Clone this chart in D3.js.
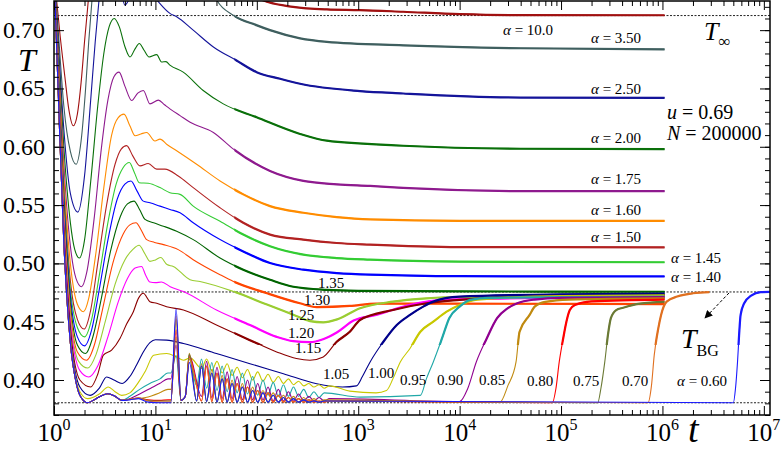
<!DOCTYPE html>
<html>
<head>
<meta charset="utf-8">
<script src="https://cdn.jsdelivr.net/npm/d3@7"></script>
<style>
  body { margin: 0; background: #fff; }
  svg text { font-family: "Liberation Serif", "Times New Roman", serif; fill: #000; }
</style>
</head>
<body>
<svg width="781" height="451"></svg>
<script>
"use strict";

// reference temperatures (dotted lines)
const tInf = 0.7125;
const tBG = 0.4755;
const tLow = 0.3805;

const xMajor = [1, 10, 100, 1e3, 1e4, 1e5, 1e6, 1e7];
const yMajor = [0.40, 0.45, 0.50, 0.55, 0.60, 0.65, 0.70];

// curves as [t, T]
const a1000 = [[1,0.745],[1.06,0.726],[1.15,0.695],[1.28,0.66],[1.4,0.632],[1.55,0.618],[1.7,0.628],[1.85,0.655],[2,0.69],[2.18,0.726],[2.5,0.8],[5,0.86],[20,0.82],[60,0.75],[112,0.726],[228,0.72],[491,0.7178],[1042,0.7172],[2770,0.7158],[1e4,0.7138],[4e4,0.7129],[1.05e6,0.7128]];
const a350 = [[1,0.75],[1.1,0.70],[1.25,0.635],[1.45,0.596],[1.65,0.585],[1.85,0.605],[2.05,0.65],[2.2,0.69],[2.37,0.726],[2.7,0.8],[5,0.86],[20,0.8],[30,0.755],[40.2,0.726],[58,0.713],[99,0.7043],[135,0.7],[267,0.693],[490,0.69],[2770,0.687],[4e4,0.6845],[1.05e6,0.6836]];
const a250 = [[1,0.75],[1.1,0.69],[1.25,0.615],[1.45,0.56],[1.72,0.544],[2,0.575],[2.3,0.64],[2.55,0.69],[2.78,0.726],[3.2,0.77],[3.8,0.785],[4.4,0.745],[5,0.7216],[5.6,0.728],[6.5,0.745],[7.5,0.742],[8.8,0.733],[10.3,0.726],[13.9,0.7144],[16.2,0.7115],[23.6,0.7],[37.3,0.6856],[63,0.674],[99.6,0.664],[170,0.6583],[267,0.654],[1042,0.6477],[2770,0.6457],[4e4,0.6422],[1.05e6,0.642]];
const a200 = [[1,0.75],[1.1,0.685],[1.25,0.6],[1.45,0.535],[1.6,0.512],[1.78,0.5046],[2,0.52],[2.3,0.57],[2.7,0.635],[3.1,0.68],[3.5,0.703],[3.93,0.71],[4.4,0.703],[5,0.686],[5.62,0.677],[6.3,0.684],[6.93,0.6885],[7.7,0.683],[8.66,0.677],[10.3,0.679],[11.5,0.6727],[12.7,0.673],[13.9,0.67],[18.8,0.664],[29.6,0.6483],[46.7,0.6368],[99.6,0.6253],[267,0.611],[490,0.6052],[2770,0.6009],[4e4,0.5983],[1.05e6,0.598]];
const a175 = [[1,0.75],[1.1,0.68],[1.25,0.585],[1.45,0.515],[1.65,0.487],[1.87,0.48],[2.1,0.492],[2.5,0.54],[2.9,0.595],[3.4,0.64],[3.9,0.66],[4.38,0.664],[5,0.652],[5.84,0.6397],[6.7,0.646],[7.6,0.6483],[8.83,0.6368],[10.7,0.64],[12.3,0.636],[13.9,0.6325],[17.5,0.6267],[22,0.621],[37.3,0.6123],[58.8,0.598],[135,0.5793],[288,0.5707],[614,0.5678],[1310,0.5664],[2770,0.5647],[4e4,0.562],[1.05e6,0.562]];
const a160 = [[1,0.75],[1.1,0.675],[1.25,0.575],[1.45,0.5],[1.7,0.465],[1.95,0.4586],[2.2,0.47],[2.6,0.51],[3.1,0.565],[3.7,0.61],[4.3,0.625],[4.9,0.628],[5.6,0.618],[6.3,0.6095],[7.2,0.611],[8.2,0.6123],[9.9,0.605],[11.1,0.6066],[13,0.602],[16.2,0.5966],[25.5,0.585],[43.4,0.5707],[73.5,0.5592],[135,0.5491],[288,0.5434],[614,0.5397],[1310,0.5377],[1e4,0.5365],[1.05e6,0.5365]];
const a150 = [[1,0.75],[1.1,0.67],[1.25,0.565],[1.45,0.485],[1.7,0.452],[1.98,0.4437],[2.3,0.46],[2.7,0.5],[3.3,0.55],[4,0.585],[4.6,0.598],[5.2,0.601],[6,0.592],[7.05,0.5836],[8.5,0.5856],[10.3,0.5808],[12.4,0.5808],[16.8,0.575],[23.6,0.565],[43.4,0.5477],[73.5,0.5348],[135,0.5247],[288,0.5204],[614,0.5175],[1310,0.5161],[1e4,0.514],[1.05e6,0.5138]];
const a145 = [[1,0.75],[1.1,0.668],[1.25,0.56],[1.45,0.478],[1.7,0.445],[2,0.437],[2.35,0.452],[2.8,0.49],[3.4,0.535],[4.1,0.568],[4.8,0.582],[5.53,0.5865],[6.2,0.578],[6.93,0.5692],[8.5,0.5687],[11.1,0.565],[13.9,0.5606],[17.5,0.5592],[23.6,0.5491],[43.4,0.5362],[73.5,0.5247],[135,0.5147],[288,0.5075],[614,0.5046],[1310,0.5032],[1e4,0.5015],[1.05e6,0.501]];
const a140 = [[1,0.75],[1.1,0.665],[1.25,0.555],[1.45,0.472],[1.7,0.437],[2,0.4293],[2.35,0.443],[2.8,0.478],[3.4,0.52],[4.2,0.555],[5,0.568],[5.74,0.5707],[6.6,0.562],[7.6,0.5534],[8.83,0.552],[11.1,0.5491],[13.9,0.5463],[17.5,0.5434],[23.6,0.5348],[43.4,0.5204],[73.5,0.5103],[135,0.5003],[288,0.4946],[614,0.4917],[1310,0.4903],[1e4,0.489],[1.05e6,0.4888]];
const a135 = [[1,0.75],[1.1,0.662],[1.25,0.55],[1.45,0.466],[1.7,0.43],[2.05,0.4227],[2.4,0.436],[2.9,0.468],[3.6,0.51],[4.5,0.54],[5.3,0.551],[6.15,0.5534],[7,0.546],[7.9,0.5377],[9.6,0.5348],[12,0.5319],[16.2,0.5276],[23.6,0.5204],[43.4,0.5046],[73.5,0.4946],[135,0.486],[229,0.48],[490,0.4773],[1e3,0.4765],[1e4,0.476],[1.05e6,0.4757]];
const a130 = [[1,0.75],[1.1,0.66],[1.25,0.545],[1.45,0.46],[1.7,0.424],[2.1,0.417],[2.5,0.43],[3,0.46],[3.8,0.5],[4.8,0.525],[5.6,0.533],[6.43,0.5348],[7.3,0.528],[8.2,0.5204],[9.8,0.518],[12,0.5161],[16.8,0.5118],[23.6,0.5032],[43.4,0.4903],[58.8,0.4845],[126,0.4744],[266,0.4658],[390,0.4625],[826,0.4635],[1500,0.4655],[1e4,0.4655],[1.05e6,0.465]];
const a125 = [[1,0.75],[1.1,0.658],[1.25,0.54],[1.45,0.455],[1.75,0.416],[2.15,0.4103],[2.6,0.422],[3.2,0.45],[4,0.482],[5,0.503],[6,0.512],[6.9,0.5155],[7.9,0.508],[8.83,0.5017],[10,0.503],[11.3,0.505],[13,0.499],[15,0.4974],[22,0.486],[27.5,0.4845],[58.8,0.4759],[126,0.4647],[229,0.456],[334,0.4505],[452,0.4495],[620,0.452],[1042,0.4615],[2200,0.4672],[4700,0.47],[1e4,0.4712],[1.05e6,0.4715]];
const a120 = [[1,0.75],[1.1,0.656],[1.25,0.535],[1.45,0.45],[1.8,0.408],[2.2,0.4026],[2.7,0.412],[3.4,0.437],[4.3,0.467],[5.3,0.487],[6.3,0.496],[7.3,0.4974],[8,0.49],[8.83,0.484],[10,0.4835],[11.5,0.484],[14,0.48],[18.9,0.4759],[40,0.46],[85.6,0.4472],[157,0.437],[229,0.4333],[334,0.4325],[450,0.435],[620,0.441],[900,0.451],[1500,0.4558],[3240,0.4644],[6900,0.4687],[1e5,0.4705],[1.05e6,0.471]];
const a115 = [[1,0.75],[1.1,0.654],[1.25,0.53],[1.45,0.445],[1.8,0.4],[2.3,0.394],[2.7,0.405],[3.07,0.4213],[3.7,0.4256],[4.5,0.436],[5.2,0.448],[6.06,0.4586],[6.8,0.47],[7.6,0.4744],[8.83,0.4672],[10.3,0.4658],[12.9,0.4629],[18.9,0.46],[40,0.4472],[85.6,0.4342],[157,0.4241],[246,0.4184],[334,0.417],[452,0.4198],[614,0.4328],[826,0.4414],[1042,0.4515],[2200,0.46],[4700,0.4658],[1e4,0.4687],[1e5,0.4725],[1.05e6,0.473]];
const a105 = [[1,0.75],[1.1,0.652],[1.25,0.525],[1.45,0.44],[1.8,0.394],[2.27,0.3868],[2.8,0.393],[3.3,0.4026],[3.9,0.4],[4.7,0.397],[5.6,0.403],[6.5,0.4127],[7.6,0.424],[8.83,0.432],[10,0.4345],[12.9,0.4342],[18.9,0.4313],[40,0.4227],[85.6,0.414],[183,0.4054],[390,0.3968],[700,0.394],[960,0.395],[1100,0.403],[1310,0.4155],[1770,0.4328],[2400,0.4472],[3240,0.4558],[4370,0.4629],[5500,0.4672],[1e4,0.4715],[1e5,0.4735],[1.05e6,0.474]];

// slow curves: early part, spike at t~16, oscillating band, late rise to T_BG
const a100Early = [[1,0.75],[1.1,0.65],[1.25,0.522],[1.45,0.437],[1.8,0.39],[2.15,0.384],[2.8,0.388],[3.43,0.394],[4,0.39],[4.65,0.3868],[5.6,0.389],[6.8,0.398],[8,0.408],[9.6,0.4213],[12.9,0.4227],[16,0.42],[19,0.417],[22,0.419]];
const lowStart = [[1,0.75],[1.1,0.648],[1.25,0.518],[1.45,0.432],[1.65,0.398],[1.85,0.385],[2.15,0.3805],[2.6,0.384],[3.4,0.3882],[4,0.386],[4.65,0.3825]];
const pre095 = [[5.6,0.386],[7,0.392],[8.8,0.397],[11.1,0.401],[13.3,0.406]];
const pre090 = [[5.6,0.384],[7,0.388],[9,0.393],[11,0.397],[13.3,0.401]];
const pre085 = [[5.6,0.3835],[8,0.385],[11,0.389],[13.3,0.392]];
const pre080 = [[5.6,0.3835],[6.8,0.3845],[8.5,0.383],[11,0.3825],[13.3,0.383]];
const pre075 = [[5.6,0.3835],[6.8,0.3845],[8.5,0.3825],[11,0.382],[13.3,0.382]];
const pre070 = [[5.6,0.3835],[6.8,0.3845],[8.5,0.382],[11,0.381],[13.3,0.381]];
const pre060 = [[5.6,0.383],[6.8,0.384],[8.5,0.381],[11,0.3805],[13.3,0.3805]];

const spike1 = [0.421, 0.430, 0.437, 0.443, 0.452, 0.455, 0.461];
const spike2 = [0.418, 0.421, 0.423, 0.420, 0.422, 0.418, 0.415];

const oscT = [25.5, 28.5, 32, 36, 40.5, 45.5, 51, 57, 64, 72, 81, 91, 102, 115, 129, 145, 163, 183, 205, 230, 258, 290, 326, 366, 411, 462, 520];
const pk100 = [0.418, 0.416, 0.414, 0.411, 0.409, 0.407, 0.405, 0.403, 0.401, 0.399, 0.397, 0.396, 0.395];
const tr100 = [0.410, 0.408, 0.406, 0.404, 0.402, 0.400, 0.399, 0.398, 0.397, 0.396, 0.395, 0.394, 0.393];
const pk095 = [0.418, 0.415, 0.412, 0.409, 0.406, 0.403, 0.400, 0.398, 0.396, 0.394, 0.392, 0.390, 0.389];
const tr095 = [0.395, 0.393, 0.391, 0.390, 0.389, 0.388, 0.387, 0.387, 0.386, 0.386, 0.386, 0.385, 0.385];
const pk090 = [0.416, 0.411, 0.407, 0.403, 0.400, 0.397, 0.394, 0.392, 0.390, 0.388, 0.386, 0.385, 0.384];
const tr090 = [0.386, 0.385, 0.384, 0.384, 0.383, 0.383, 0.383, 0.382, 0.382, 0.382, 0.382, 0.382, 0.382];
const pk085 = [0.414, 0.409, 0.404, 0.400, 0.397, 0.394, 0.391, 0.389, 0.387, 0.386, 0.385, 0.384, 0.383];
const pkLow = [0.412, 0.406, 0.401, 0.397, 0.394, 0.391, 0.389, 0.387, 0.385, 0.384, 0.383, 0.382, 0.382];
const trLow = [0.382, 0.3815, 0.381, 0.381, 0.381, 0.381, 0.381, 0.381, 0.381, 0.381, 0.381, 0.381, 0.381];

const late100 = [[826,0.3905],[1500,0.389],[1900,0.391],[2200,0.401],[2600,0.4155],[3240,0.427],[4100,0.4414],[5500,0.45],[7440,0.4586],[1e4,0.4644],[1.5e4,0.469],[1e5,0.472],[1.05e6,0.4725]];
const late095 = [[1042,0.3853],[4100,0.3868],[4700,0.401],[5500,0.4155],[6700,0.4356],[7900,0.453],[1e4,0.4629],[1.27e4,0.4687],[2e4,0.4705],[1e5,0.471],[1.05e6,0.4715]];
const late090 = [[1e4,0.3815],[1.2e4,0.3925],[1.46e4,0.4155],[1.85e4,0.4356],[2.34e4,0.453],[2.97e4,0.4615],[3.7e4,0.4658],[5.5e4,0.469],[1e5,0.4705],[1.05e6,0.471]];
const late085 = [[2.5e4,0.381],[3.0e4,0.3954],[3.6e4,0.4155],[3.9e4,0.4414],[4.9e4,0.4558],[5.5e4,0.4629],[7e4,0.467],[1.2e5,0.469],[1.05e6,0.47]];
const late080 = [[8.2e4,0.3805],[8.9e4,0.3925],[9.6e4,0.4155],[1.05e5,0.4356],[1.13e5,0.45],[1.22e5,0.46],[1.37e5,0.4644],[2e5,0.4675],[1.05e6,0.469]];
const late075 = [[2.3e5,0.3805],[2.47e5,0.3925],[2.7e5,0.4155],[2.9e5,0.4385],[3.1e5,0.453],[3.5e5,0.46],[4.1e5,0.462],[6e5,0.4655],[1.05e6,0.467]];
const late070 = [[7.2e5,0.3805],[7.8e5,0.3954],[8.3e5,0.4213],[9.1e5,0.4443],[9.7e5,0.4558],[1.1e6,0.4672],[1.4e6,0.4716],[2e6,0.4744],[2.9e6,0.4753]];
const late060 = [[5.0e6,0.3805],[5.25e6,0.3925],[5.5e6,0.4155],[5.7e6,0.4385],[5.9e6,0.4558],[6.4e6,0.4658],[7.5e6,0.4724],[9.3e6,0.4753],[1.14e7,0.4755]];

const colors = ["#a01010", "#3f5f5f", "#14149a", "#0a700a", "#8e1a8e", "#ff8c00", "#b22222", "#33cc33", "#0000ff", "#006400", "#ff4500", "#9acd32", "#ff00ff", "#8b0000", "#00008b", "#c8c800", "#20a8a8", "#900090", "#c08a10", "#ff0000", "#6b7a35", "#e07020", "#1a1aff"];

const svg = d3.select("svg");
const x = d3.scaleLog().domain([1, 1.15e7]).range([54, 770]);
const y = d3.scaleLinear().domain([0.370, 0.725]).range([415, 1]);

const oscPoints = (pk, tr, phase) => {
  const pts = [];
  pk.forEach((p, k) => {
    pts.push([oscT[2 * k + phase], tr[k]], [oscT[2 * k + 1 + phase], p]);
  });
  return pts;
};

const slow = (pre, i, pk, tr, phase, late) => {
  const last = pre[pre.length - 1][1];
  return lowStart
    .concat(pre)
    .concat([[14.2, last], [16, spike1[i]], [17.9, 0.3825], [19.7, 0.386], [21.6, spike2[i]]])
    .concat(oscPoints(pk, tr, phase))
    .concat(late);
};

const curves = [
  a1000, a350, a250, a200, a175, a160, a150, a145, a140, a135, a130, a125, a120, a115, a105,
  a100Early.concat(oscPoints(pk100, tr100, 1)).concat(late100),
  slow(pre095, 0, pk095, tr095, 0, late095),
  slow(pre090, 1, pk090, tr090, 1, late090),
  slow(pre085, 2, pk085, trLow, 0, late085),
  slow(pre080, 3, pkLow, trLow, 1, late080),
  slow(pre075, 4, pkLow, trLow, 0, late075),
  slow(pre070, 5, pkLow, trLow, 1, late070),
  slow(pre060, 6, pkLow, trLow, 0, late060)
];

const defs = svg.append("defs");
defs.append("clipPath").attr("id", "plot")
  .append("rect").attr("x", 54).attr("y", 1).attr("width", 716).attr("height", 414);
defs.append("clipPath").attr("id", "noisy")
  .append("rect").attr("x", x(60)).attr("y", 1).attr("width", 770 - x(60)).attr("height", y(0.43) - 1);
defs.append("marker").attr("id", "arrow")
  .attr("viewBox", "0 0 10 10").attr("refX", 9).attr("refY", 5)
  .attr("markerWidth", 8).attr("markerHeight", 8).attr("orient", "auto")
  .append("path").attr("d", "M0,0 L10,5 L0,10 z").attr("fill", "#000");

const line = d3.line()
  .x(d => x(d[0]))
  .y(d => y(d[1]))
  .curve(d3.curveMonotoneX);

// dotted reference lines
svg.append("g")
  .selectAll("line")
  .data([tInf, tBG, tLow])
  .enter()
  .append("line")
  .attr("x1", 54).attr("x2", 770)
  .attr("y1", d => y(d)).attr("y2", d => y(d))
  .attr("stroke", "#222")
  .attr("stroke-width", 1)
  .attr("stroke-dasharray", "2,1.5");

const plot = svg.append("g").attr("clip-path", "url(#plot)");

plot.selectAll("path.thin")
  .data(curves)
  .enter()
  .append("path")
  .attr("class", "thin")
  .attr("d", line)
  .attr("fill", "none")
  .attr("stroke", (d, i) => colors[i])
  .attr("stroke-width", 1.1);

plot.append("g")
  .attr("clip-path", "url(#noisy)")
  .selectAll("path")
  .data(curves)
  .enter()
  .append("path")
  .attr("d", line)
  .attr("fill", "none")
  .attr("stroke", (d, i) => colors[i])
  .attr("stroke-width", 2.2);

// axes, ticks pointing inwards on all four sides
const minorX = x.ticks().filter(t => xMajor.indexOf(t) < 0);
const minorY = d3.range(0.37, 0.725, 0.01);
const noDomain = g => g.select(".domain").remove();

svg.append("g").attr("transform", "translate(0,415)")
  .call(d3.axisBottom(x).tickValues(xMajor).tickSize(-9).tickFormat("")).call(noDomain);
svg.append("g").attr("transform", "translate(0,415)")
  .call(d3.axisBottom(x).tickValues(minorX).tickSize(-5).tickFormat("")).call(noDomain);
svg.append("g").attr("transform", "translate(0,1)")
  .call(d3.axisTop(x).tickValues(xMajor).tickSize(-9).tickFormat("")).call(noDomain);
svg.append("g").attr("transform", "translate(0,1)")
  .call(d3.axisTop(x).tickValues(minorX).tickSize(-5).tickFormat("")).call(noDomain);
svg.append("g").attr("transform", "translate(54,0)")
  .call(d3.axisLeft(y).tickValues(yMajor).tickSize(-10).tickFormat("")).call(noDomain);
svg.append("g").attr("transform", "translate(54,0)")
  .call(d3.axisLeft(y).tickValues(minorY).tickSize(-5).tickFormat("")).call(noDomain);
svg.append("g").attr("transform", "translate(770,0)")
  .call(d3.axisRight(y).tickValues(yMajor).tickSize(-10).tickFormat("")).call(noDomain);
svg.append("g").attr("transform", "translate(770,0)")
  .call(d3.axisRight(y).tickValues(minorY).tickSize(-5).tickFormat("")).call(noDomain);

svg.append("rect")
  .attr("x", 54).attr("y", 1).attr("width", 716).attr("height", 414)
  .attr("fill", "none").attr("stroke", "#000").attr("stroke-width", 1.5);

svg.append("g")
  .selectAll("text")
  .data(yMajor)
  .enter()
  .append("text")
  .attr("x", 45)
  .attr("y", d => y(d) + 8)
  .attr("text-anchor", "end")
  .attr("font-size", 24)
  .text(d => d.toFixed(2));

const xl = svg.append("g")
  .selectAll("text")
  .data(xMajor)
  .enter()
  .append("text")
  .attr("x", d => x(d))
  .attr("y", 441)
  .attr("text-anchor", "middle")
  .attr("font-size", 25);
xl.append("tspan").text("10");
xl.append("tspan").attr("dy", -11).attr("font-size", 16).text(d => Math.round(Math.log10(d)));

// axis titles and annotations
svg.append("text").attr("x", 18).attr("y", 71).attr("font-size", 32).attr("font-style", "italic").text("T");
svg.append("text").attr("x", 688).attr("y", 442).attr("font-size", 38).attr("font-style", "italic").text("t");

const alphaLabels = [
  ["10.0", 503, 35], ["3.50", 591, 43], ["2.50", 591, 94], ["2.00", 591, 143],
  ["1.75", 591, 184], ["1.60", 591, 215], ["1.50", 591, 242], ["1.45", 671, 263],
  ["1.40", 671, 282], ["0.60", 677, 386]
];
const al = svg.append("g")
  .selectAll("text")
  .data(alphaLabels)
  .enter()
  .append("text")
  .attr("x", d => d[1])
  .attr("y", d => d[2])
  .attr("font-size", 15);
al.append("tspan").attr("font-style", "italic").text("\u03b1");
al.append("tspan").text(d => " = " + d[0]);

const numLabels = [
  ["1.35", 318, 288], ["1.30", 304, 305], ["1.25", 288, 320], ["1.20", 288, 338],
  ["1.15", 295, 353], ["1.05", 323, 379], ["1.00", 368, 378], ["0.95", 400, 385],
  ["0.90", 437, 385], ["0.85", 479, 385], ["0.80", 527, 386], ["0.75", 573, 386],
  ["0.70", 622, 386]
];
svg.append("g")
  .selectAll("text")
  .data(numLabels)
  .enter()
  .append("text")
  .attr("x", d => d[1])
  .attr("y", d => d[2])
  .attr("font-size", 15)
  .text(d => d[0]);

const tinf = svg.append("text").attr("x", 704).attr("y", 40).attr("font-size", 26);
tinf.append("tspan").attr("font-style", "italic").text("T");
tinf.append("tspan").attr("dy", 7).attr("font-size", 17).text("\u221e");

const u = svg.append("text").attr("x", 667).attr("y", 119).attr("font-size", 20);
u.append("tspan").attr("font-style", "italic").text("u");
u.append("tspan").text(" = 0.69");
const n = svg.append("text").attr("x", 667).attr("y", 140).attr("font-size", 20);
n.append("tspan").attr("font-style", "italic").text("N");
n.append("tspan").text(" = 200000");

const tbg = svg.append("text").attr("x", 681).attr("y", 348).attr("font-size", 28);
tbg.append("tspan").attr("font-style", "italic").text("T");
tbg.append("tspan").attr("dy", 8).attr("font-size", 16).text("BG");

svg.append("line")
  .attr("x1", 729).attr("y1", y(tBG) + 1)
  .attr("x2", 705).attr("y2", 318)
  .attr("stroke", "#000").attr("stroke-width", 1)
  .attr("stroke-dasharray", "3,2")
  .attr("marker-end", "url(#arrow)");
</script>
</body>
</html>
